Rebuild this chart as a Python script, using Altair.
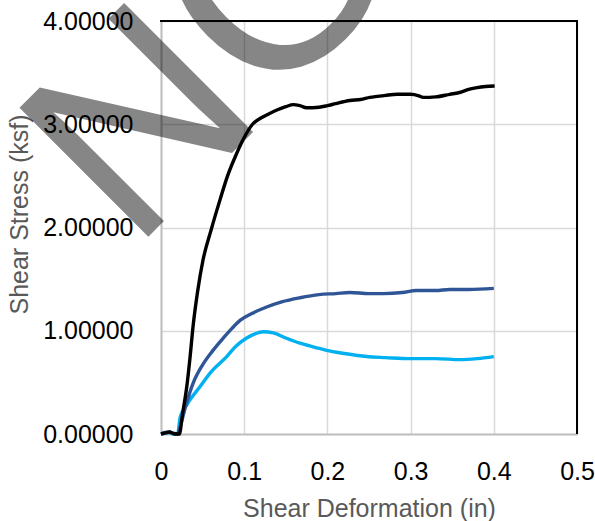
import altair as alt
import pandas as pd

# ---- data ----
black_x = [0, 0.005, 0.01, 0.015, 0.02, 0.022, 0.026, 0.031, 0.035, 0.0385, 0.044, 0.0505,
           0.06, 0.071, 0.08, 0.09, 0.0986, 0.11, 0.12, 0.127, 0.14, 0.15, 0.159, 0.167,
           0.175, 0.19, 0.2, 0.21, 0.227, 0.24, 0.251, 0.26, 0.27, 0.284, 0.3, 0.31, 0.315,
           0.33, 0.347, 0.36, 0.371, 0.38, 0.39, 0.401]
black_y = [0, 0.01, 0.02, 0.005, 0.0, 0.0, 0.2, 0.46, 0.75, 1.04, 1.38, 1.685,
           1.97, 2.27, 2.5, 2.7, 2.85, 3.0, 3.06, 3.09, 3.14, 3.17, 3.19, 3.18,
           3.16, 3.165, 3.18, 3.2, 3.23, 3.24, 3.26, 3.27, 3.28, 3.29, 3.29, 3.275, 3.26,
           3.265, 3.29, 3.31, 3.34, 3.355, 3.365, 3.37]

dark_x = [0, 0.005, 0.01, 0.015, 0.02, 0.023, 0.03, 0.0385, 0.05, 0.0625, 0.075, 0.085,
          0.095, 0.11, 0.127, 0.145, 0.167, 0.19, 0.21, 0.227, 0.25, 0.267, 0.29, 0.307,
          0.33, 0.347, 0.37, 0.4]
dark_y = [0, 0.015, 0.02, 0.005, 0.0, 0.07, 0.28, 0.49, 0.67, 0.81, 0.93, 1.02,
          1.10, 1.17, 1.23, 1.28, 1.32, 1.35, 1.36, 1.37, 1.36, 1.36, 1.37, 1.39,
          1.39, 1.40, 1.40, 1.41]

light_x = [0, 0.005, 0.01, 0.015, 0.02, 0.023, 0.03, 0.047, 0.06, 0.079, 0.09, 0.103,
           0.113, 0.123, 0.135, 0.15, 0.167, 0.185, 0.199, 0.22, 0.247, 0.27, 0.3, 0.33,
           0.36, 0.38, 0.4]
light_y = [0, 0.01, 0.015, 0.0, 0.0, 0.16, 0.27, 0.46, 0.6, 0.75, 0.85, 0.93,
           0.97, 0.99, 0.98, 0.93, 0.88, 0.84, 0.81, 0.78, 0.75, 0.74, 0.73, 0.73,
           0.72, 0.73, 0.75]

x_ticks = [0, 0.1, 0.2, 0.3, 0.4, 0.5]
y_ticks = [0, 1, 2, 3, 4]
x_title = "Shear Deformation (in)"
y_title = "Shear Stress (ksf)"
watermark_letters = ["N", "O"]

FONT = "Liberation Sans"
W, H = 416, 413

xs = alt.X("x:Q", scale=alt.Scale(domain=[0, 0.5], nice=False),
           axis=alt.Axis(values=x_ticks, format=".1~f", title=x_title,
                         titleY=82, titleBaseline="alphabetic"))
ys = alt.Y("y:Q", scale=alt.Scale(domain=[0, 4], nice=False),
           axis=alt.Axis(values=y_ticks, format=".5f", title=y_title,
                         titleX=-142, titleY=193, titleBaseline="middle",
                         titleAlign="center", titleAngle=270))


def series(xv, yv, color):
    df = pd.DataFrame({"x": xv, "y": yv})
    return alt.Chart(df).mark_line(color=color, strokeWidth=3.4, interpolate="monotone").encode(
        x=xs, y=ys)


light = series(light_x, light_y, "#00B0F0")
dark = series(dark_x, dark_y, "#2F5597")
black = series(black_x, black_y, "#000000")

frame_df = pd.DataFrame({"k": [0]})
top_rule = alt.Chart(frame_df).mark_rule(color="black", strokeWidth=2).encode(
    x=alt.value(-1), x2=alt.value(W + 1), y=alt.value(0))
right_rule = alt.Chart(frame_df).mark_rule(color="black", strokeWidth=2).encode(
    x=alt.value(W), y=alt.value(0), y2=alt.value(H))

wm_n = alt.Chart(frame_df).mark_text(
    text=watermark_letters[0], font=FONT, fontSize=265, angle=315, align="left",
    baseline="alphabetic", color="black", opacity=0.47
).encode(x=alt.value(-28), y=alt.value(231))
wm_o = alt.Chart(frame_df).mark_text(
    text=watermark_letters[1], font=FONT, fontSize=280, angle=315, align="left",
    baseline="alphabetic", color="black", opacity=0.47
).encode(x=alt.value(106), y=alt.value(93))

chart = alt.layer(light, dark, black, top_rule, right_rule, wm_n, wm_o).properties(
    width=W, height=H,
    padding={"left": 161, "top": 21, "right": 18, "bottom": 87},
    autosize=alt.AutoSizeParams(type="none"),
).configure_view(stroke=None).configure_axis(
    labelFont=FONT, titleFont=FONT, labelFontSize=25, titleFontSize=25,
    labelColor="#000000", titleColor="#595959", titleFontWeight="normal",
    ticks=False, tickSize=0, grid=True, gridColor="#d9d9d9", gridWidth=1.5,
    domainColor="#bfbfbf", domainWidth=2, labelFlush=False,
).configure_axisX(labelPadding=25).configure_axisY(labelPadding=28)

chart.save("out.html", embed_options={"renderer": "svg", "actions": False})
